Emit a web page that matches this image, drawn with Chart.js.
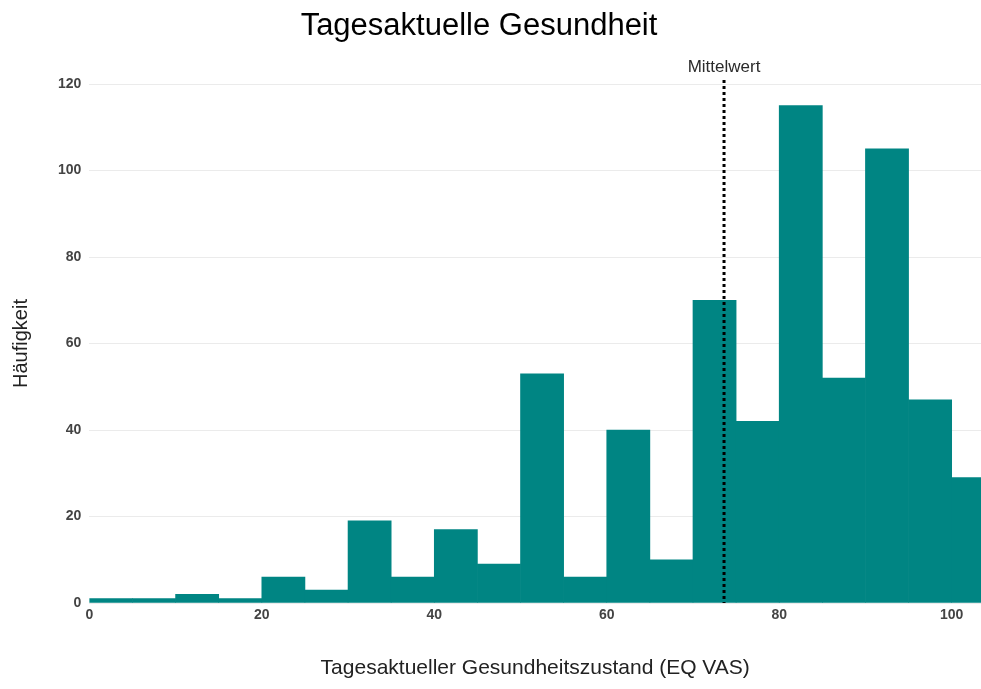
<!DOCTYPE html>
<html>
<head>
<meta charset="utf-8">
<script src="https://cdn.jsdelivr.net/npm/chart.js@4.4.1/dist/chart.umd.min.js"></script>
<style>
  body { margin: 0; background: #fff; }
</style>
</head>
<body>
<canvas id="myChart" width="981" height="689"></canvas>
<script>
// data (bins of width 5)
const binStarts = [0, 5, 10, 15, 20, 25, 30, 35, 40, 45, 50, 55, 60, 65, 70, 75, 80, 85, 90, 95, 100];
const counts    = [1, 1, 2, 1, 6, 3, 19, 6, 17, 9, 53, 6, 40, 10, 70, 42, 115, 52, 105, 47, 29];
const binWidth = 5;
const meanValue = 73.6;
const meanLabel = 'Mittelwert';
const chartTitle = 'Tagesaktuelle Gesundheit';
const xTitle = 'Tagesaktueller Gesundheitszustand (EQ VAS)';
const yTitle = 'Häufigkeit';

const font_family = '"Liberation Sans", Arial, sans-serif';

// mean line + title drawn on the canvas
const meanLinePlugin = {
    id: 'meanLine',
    afterDatasetsDraw(chart) {
        const ctx = chart.ctx;
        const area = chart.chartArea;
        const x = chart.scales.x.getPixelForValue(meanValue);
        ctx.save();
        ctx.strokeStyle = '#000';
        ctx.lineWidth = 3;
        ctx.setLineDash([3, 3]);
        ctx.beginPath();
        ctx.moveTo(x, area.top - 4);
        ctx.lineTo(x, area.bottom);
        ctx.stroke();
        ctx.setLineDash([]);
        ctx.fillStyle = '#2a2a2a';
        ctx.font = '17px ' + font_family;
        ctx.textAlign = 'center';
        ctx.textBaseline = 'middle';
        ctx.fillText(meanLabel, x, area.top - 17);
        ctx.restore();
    },
    afterDraw(chart) {
        const ctx = chart.ctx;
        ctx.save();
        ctx.fillStyle = '#000';
        ctx.font = '31px ' + font_family;
        ctx.textAlign = 'center';
        ctx.textBaseline = 'middle';
        ctx.fillText(chartTitle, 479, 26);
        ctx.restore();
    }
};

const barData = binStarts.map((start, i) => ({x: start + binWidth / 2, y: counts[i]}));

const config = {
    type: 'bar',
    data: {
        datasets: [{
            label: yTitle,
            data: barData,
            backgroundColor: '#008583',
            borderWidth: 0,
            barPercentage: 1,
            categoryPercentage: 1,
        }]
    },
    options: {
        responsive: false,
        animation: false,
        layout: {
            padding: {top: 84, left: 9, right: 0, bottom: 8}
        },
        plugins: {
            legend: {display: false},
            tooltip: {enabled: false},
            title: {display: false}
        },
        scales: {
            x: {
                type: 'linear',
                offset: false,
                min: 0,
                max: 103.4,
                grid: {display: false, drawTicks: false},
                border: {display: false},
                ticks: {
                    stepSize: 20,
                    includeBounds: false,
                    padding: 4,
                    color: '#444',
                    font: {family: font_family, size: 14, weight: 'bold'}
                },
                title: {
                    display: true,
                    text: xTitle,
                    color: '#222',
                    padding: {top: 28, bottom: 0},
                    font: {family: font_family, size: 21}
                }
            },
            y: {
                min: 0,
                max: 120,
                grid: {color: '#ebebeb', drawTicks: false},
                border: {display: false},
                ticks: {
                    stepSize: 20,
                    padding: 8,
                    color: '#444',
                    font: {family: font_family, size: 14, weight: 'bold'}
                },
                title: {
                    display: true,
                    text: yTitle,
                    color: '#222',
                    padding: {top: 0, bottom: 17},
                    font: {family: font_family, size: 20}
                }
            }
        }
    },
    plugins: [meanLinePlugin]
};

new Chart(document.getElementById('myChart'), config);
</script>
</body>
</html>
